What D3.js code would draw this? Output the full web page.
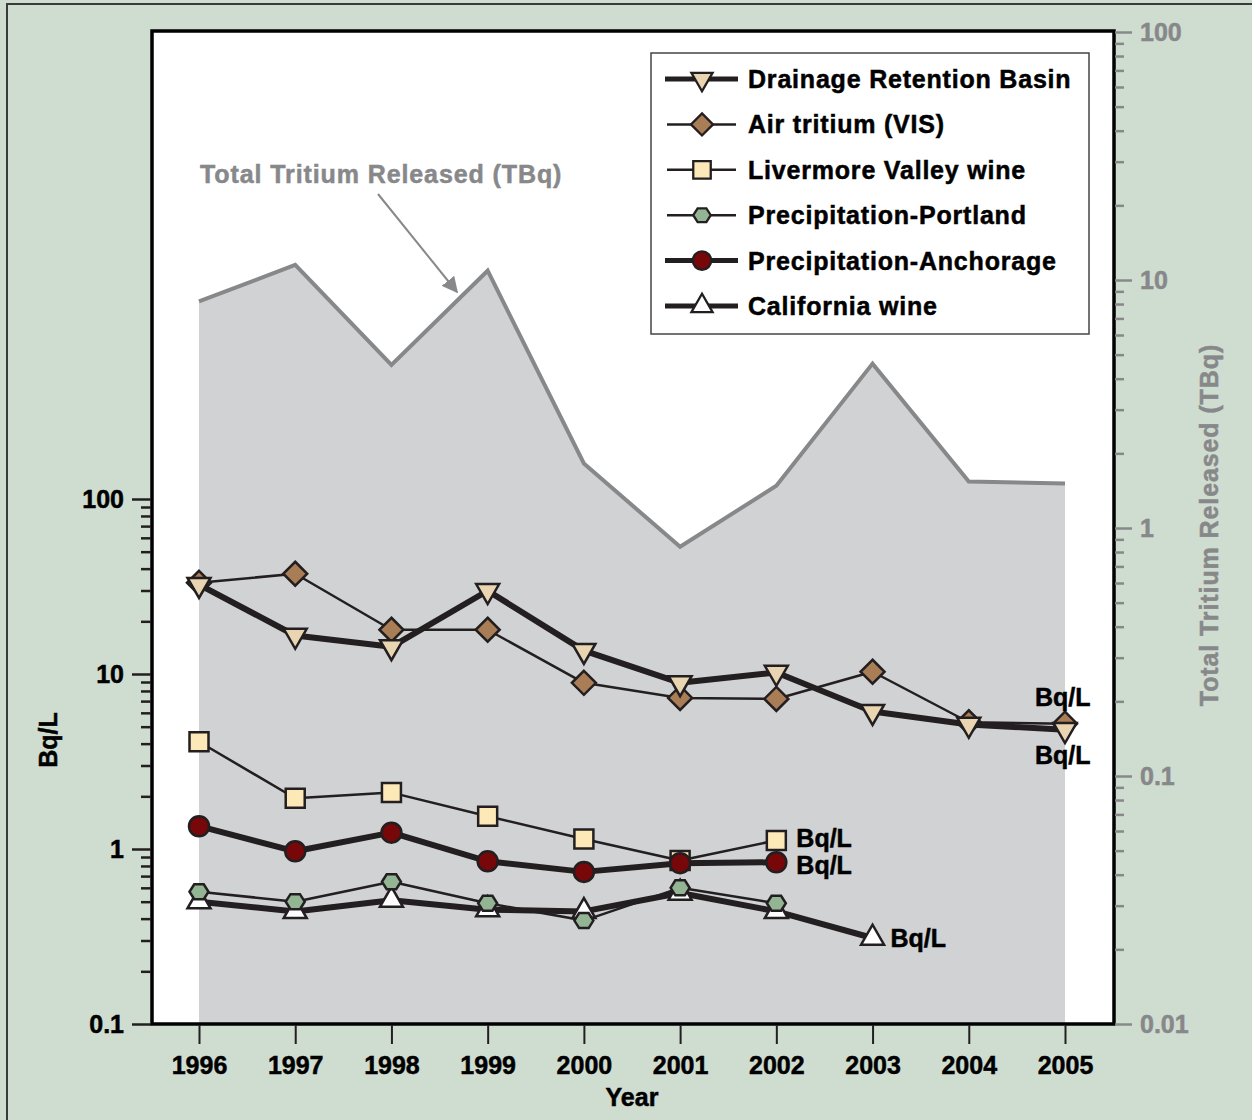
<!DOCTYPE html>
<html>
<head>
<meta charset="utf-8">
<script src="https://cdn.jsdelivr.net/npm/d3@7"></script>
<style>
  body { margin: 0; background: #cfdcd0; }
  svg text { font-family: Arial, "Liberation Sans", Helvetica, sans-serif; font-weight: bold; }
</style>
</head>
<body>
<div class="chart"></div>
<script>
// Data
const years = [1996, 1997, 1998, 1999, 2000, 2001, 2002, 2003, 2004, 2005];
// total tritium released, TBq (right axis, grey area)
const tritiumReleased = [8.2, 11.5, 4.55, 10.9, 1.82, 0.84, 1.48, 4.6, 1.54, 1.51];
// Bq/L (left axis)
const drainageBasin = [32.4, 16.6, 14.3, 29.9, 13.6, 8.9, 10.2, 6.1, 5.15, 4.8];
const airTritium = [33.2, 37.4, 17.9, 17.9, 8.9, 7.3, 7.2, 10.3, 5.3, 5.2];
const livermoreWine = [4.1, 1.95, 2.1, 1.54, 1.14, 0.86, 1.12];
const precipPortland = [0.57, 0.50, 0.65, 0.49, 0.39, 0.60, 0.49];
const precipAnchorage = [1.35, 0.97, 1.24, 0.85, 0.74, 0.83, 0.84];
const californiaWine = [0.50, 0.44, 0.51, 0.45, 0.44, 0.56, 0.44, 0.31];

const leftMajor = [0.1, 1, 10, 100];
const rightMajor = [0.01, 0.1, 1, 10, 100];

const W = 1252, H = 1120;
const plot = { left: 152, right: 1114, top: 31, bottom: 1024 };
const ink = '#231f20';
const grey = '#87888a';

const svg = d3.select('.chart').append('svg').attr('width', W).attr('height', H);

// outer panel
svg.append('rect').attr('x', 7).attr('y', 4).attr('width', W + 10).attr('height', H + 10)
  .attr('fill', '#cfdcd0').attr('stroke', '#3a3a3a').attr('stroke-width', 2);

// scales
const x = d3.scaleLinear().domain([1996, 2005]).range([199, 1065]);
const yL = d3.scaleLog().domain([0.1, 100]).range([1024, 499]);
const yR = d3.scaleLog().domain([0.01, 100]).range([1024, 32]);

// minor ticks 2..9 per decade
function minors(lo, hi) {
  const out = [];
  for (let p = lo; p < hi; p *= 10) for (let k = 2; k <= 9; k++) out.push(+(p * k).toPrecision(3));
  return out;
}

// heavier glyphs, like the original artwork
function heavy(sel, color) {
  return sel.attr('fill', color).attr('stroke', color).attr('stroke-width', 0.5);
}

// plot background
svg.append('rect').attr('x', plot.left).attr('y', plot.top)
  .attr('width', plot.right - plot.left).attr('height', plot.bottom - plot.top)
  .attr('fill', '#fff');

// grey area: total tritium
const area = d3.area().x((d, i) => x(years[i])).y0(plot.bottom).y1(d => yR(d));
svg.append('path').datum(tritiumReleased).attr('d', area).attr('fill', '#d1d2d4');
svg.append('path').datum(tritiumReleased)
  .attr('d', d3.line().x((d, i) => x(years[i])).y(d => yR(d)))
  .attr('fill', 'none').attr('stroke', grey).attr('stroke-width', 4);

// custom marker shapes
const shapes = {
  triDown: { draw(c, s) { const w = 11.5, h = 20; c.moveTo(-w, -h / 3); c.lineTo(w, -h / 3); c.lineTo(0, 2 * h / 3); c.closePath(); } },
  triUp: { draw(c, s) { const w = 11.5, h = 20; c.moveTo(-w, h / 3); c.lineTo(w, h / 3); c.lineTo(0, -2 * h / 3); c.closePath(); } },
  diamond: { draw(c, s) { const r = 12; c.moveTo(0, -r); c.lineTo(r, 0); c.lineTo(0, r); c.lineTo(-r, 0); c.closePath(); } },
  square: { draw(c, s) { const r = 9.5; c.rect(-r, -r, 2 * r, 2 * r); } },
  hexagon: { draw(c, s) { const w = 9.5, h = 7.5; c.moveTo(-w, 0); c.lineTo(-w / 2, -h); c.lineTo(w / 2, -h); c.lineTo(w, 0); c.lineTo(w / 2, h); c.lineTo(-w / 2, h); c.closePath(); } },
  circle: { draw(c, s) { c.moveTo(10, 0); c.arc(0, 0, 10, 0, 2 * Math.PI); } }
};

// series, drawn bottom to top
const series = [
  { name: 'California wine', values: californiaWine, shape: 'triUp', fill: '#ffffff', width: 6 },
  { name: 'Precipitation-Portland', values: precipPortland, shape: 'hexagon', fill: '#93b594', width: 2.5 },
  { name: 'Livermore Valley wine', values: livermoreWine, shape: 'square', fill: '#fde9b8', width: 2.5 },
  { name: 'Precipitation-Anchorage', values: precipAnchorage, shape: 'circle', fill: '#780709', width: 6 },
  { name: 'Air tritium (VIS)', values: airTritium, shape: 'diamond', fill: '#a97d55', width: 2.5 },
  { name: 'Drainage Retention Basin', values: drainageBasin, shape: 'triDown', fill: '#e9d5b1', width: 6 }
];

const line = d3.line().x((d, i) => x(years[i])).y(d => yL(d));
const sym = d3.symbol();

series.forEach(s => {
  const g = svg.append('g').attr('class', 'series');
  g.append('path').datum(s.values).attr('d', line)
    .attr('fill', 'none').attr('stroke', ink).attr('stroke-width', s.width).attr('stroke-linejoin', 'round');
  g.selectAll('path.pt').data(s.values).join('path').attr('class', 'pt')
    .attr('d', sym.type(shapes[s.shape]))
    .attr('transform', (d, i) => `translate(${x(years[i])},${yL(d)})`)
    .attr('fill', s.fill).attr('stroke', ink).attr('stroke-width', 2.5);
});

// unit labels at series ends
const unitLabels = [
  { values: airTritium, dx: -30, dy: -18 },
  { values: drainageBasin, dx: -30, dy: 34 },
  { values: livermoreWine, dx: 20, dy: 7 },
  { values: precipAnchorage, dx: 20, dy: 12 },
  { values: californiaWine, dx: 18, dy: 9 }
];
unitLabels.forEach(u => {
  const i = u.values.length - 1;
  svg.append('text').attr('x', x(years[i]) + u.dx).attr('y', yL(u.values[i]) + u.dy)
    .attr('font-size', 25).call(heavy, '#000').text('Bq/L');
});

// plot frame
svg.append('rect').attr('x', plot.left).attr('y', plot.top)
  .attr('width', plot.right - plot.left).attr('height', plot.bottom - plot.top)
  .attr('fill', 'none').attr('stroke', '#000').attr('stroke-width', 3.5);

// left axis
const leftMinor = svg.append('g').attr('transform', `translate(${plot.left - 1},0)`)
  .call(d3.axisLeft(yL).tickValues(minors(0.1, 100)).tickSize(10).tickFormat(''));
const leftAxis = svg.append('g').attr('transform', `translate(${plot.left - 1},0)`)
  .call(d3.axisLeft(yL).tickValues(leftMajor).tickSize(19).tickPadding(8).tickFormat(d => d));
[leftMinor, leftAxis].forEach(g => {
  g.select('.domain').remove();
  g.selectAll('line').attr('stroke', ink).attr('stroke-width', 2.5);
});
leftAxis.selectAll('text').attr('font-size', 25).call(heavy, '#000');

// right axis
const rightMinor = svg.append('g').attr('transform', `translate(${plot.right + 1},0)`)
  .call(d3.axisRight(yR).tickValues(minors(0.01, 100)).tickSize(9).tickFormat(''));
const rightAxis = svg.append('g').attr('transform', `translate(${plot.right + 1},0)`)
  .call(d3.axisRight(yR).tickValues(rightMajor).tickSize(17).tickPadding(8).tickFormat(d => d));
[rightMinor, rightAxis].forEach(g => {
  g.select('.domain').remove();
  g.selectAll('line').attr('stroke', grey).attr('stroke-width', 2.5);
});
rightAxis.selectAll('text').attr('font-size', 25).call(heavy, grey);

// x axis
const xAxis = svg.append('g').attr('transform', `translate(0,${plot.bottom + 1})`)
  .call(d3.axisBottom(x).tickValues(years).tickSize(19).tickPadding(12).tickFormat(d3.format('d')));
xAxis.select('.domain').remove();
xAxis.selectAll('line').attr('stroke', ink).attr('stroke-width', 2);
xAxis.selectAll('text').attr('font-size', 25).call(heavy, '#000');

// axis titles
svg.append('text').attr('x', (x(1996) + x(2005)) / 2).attr('y', 1106)
  .attr('text-anchor', 'middle').attr('font-size', 25).call(heavy, '#000').text('Year');
svg.append('text').attr('transform', 'translate(57,740) rotate(-90)')
  .attr('text-anchor', 'middle').attr('font-size', 25).call(heavy, '#000').text('Bq/L');
svg.append('text').attr('transform', 'translate(1218,525) rotate(-90)')
  .attr('text-anchor', 'middle').attr('font-size', 25).attr('letter-spacing', 0.9)
  .call(heavy, grey).text('Total Tritium Released (TBq)');

// annotation with arrow
svg.append('defs').append('marker').attr('id', 'arrow')
  .attr('viewBox', '0 0 10 10').attr('refX', 9).attr('refY', 5)
  .attr('markerWidth', 8).attr('markerHeight', 8).attr('orient', 'auto')
  .append('path').attr('d', 'M0,0L10,5L0,10z').attr('fill', grey);
svg.append('text').attr('x', 200).attr('y', 183).attr('font-size', 25).attr('letter-spacing', 0.9)
  .call(heavy, grey).text('Total Tritium Released (TBq)');
svg.append('line').attr('x1', 378).attr('y1', 194).attr('x2', 457).attr('y2', 292)
  .attr('stroke', grey).attr('stroke-width', 2).attr('marker-end', 'url(#arrow)');

// legend
const legend = svg.append('g').attr('class', 'legend');
legend.append('rect').attr('x', 651).attr('y', 53).attr('width', 438).attr('height', 281)
  .attr('fill', '#fff').attr('stroke', '#444').attr('stroke-width', 1.5);
const legendOrder = [5, 4, 2, 1, 3, 0].map(i => series[i]);
legendOrder.forEach((s, i) => {
  const cy = 79 + i * 45.4;
  const g = legend.append('g').attr('transform', `translate(0,${cy})`);
  g.append('line').attr('x1', s.width > 3 ? 665 : 667).attr('x2', s.width > 3 ? 738 : 736)
    .attr('stroke', ink).attr('stroke-width', s.width > 3 ? 5 : 2.5);
  g.append('path').attr('d', sym.type(shapes[s.shape])).attr('transform', 'translate(702,0) scale(0.92)')
    .attr('fill', s.fill).attr('stroke', ink).attr('stroke-width', 2.5);
  g.append('text').attr('x', 748).attr('y', 9).attr('font-size', 25).attr('letter-spacing', 0.8)
    .call(heavy, '#000').text(s.name);
});
</script>
</body>
</html>
